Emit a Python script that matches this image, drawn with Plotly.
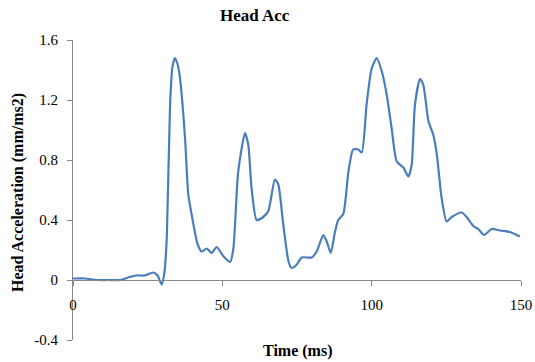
import plotly.graph_objects as go

time_ms = [0, 4, 8, 12, 16, 19, 21, 24, 26.9, 28.3, 29.7, 30.6, 31.4, 32.5, 33.3, 34.1, 35.0, 35.8, 37.5, 38.6, 39.7,
           41.7, 43.1, 44.8, 46.4, 48.1, 50.3, 52.6, 53.7, 55.3, 57.6, 58.7, 59.8, 61.5, 63.7, 65.4, 67.6,
           68.7, 70.4, 72.2, 73.2, 74.8, 76.6, 79.9, 81.6, 83.8, 84.9, 86.3, 87.7, 88.8, 90.5, 92.2, 93.8,
           95.5, 96.7, 98.3, 100.0, 101.7, 103.4, 105.0, 106.7, 108.4, 110.6, 112.3, 113.4, 114.5, 116.2,
           117.3, 119.0, 120.6, 121.8, 123.4, 125.1, 126.8, 130.1, 131.8, 134.0, 135.7, 137.6, 140.2, 143.0,
           146.3, 149.6]
head_acc = [0.01, 0.01, 0.0, 0.0, 0.0, 0.02, 0.03, 0.03, 0.05, 0.03, -0.03, 0.05, 0.28, 1.17, 1.42, 1.48, 1.44, 1.35, 0.95, 0.57, 0.44,
            0.24, 0.19, 0.21, 0.18, 0.22, 0.16, 0.12, 0.21, 0.72, 0.98, 0.90, 0.61, 0.40, 0.42, 0.46, 0.67,
            0.64, 0.37, 0.12, 0.08, 0.10, 0.15, 0.15, 0.19, 0.30, 0.26, 0.18, 0.32, 0.40, 0.44, 0.72, 0.87,
            0.87, 0.85, 1.17, 1.41, 1.48, 1.39, 1.24, 1.01, 0.79, 0.75, 0.69, 0.77, 1.17, 1.34,
            1.30, 1.06, 0.97, 0.84, 0.55, 0.39, 0.42, 0.45, 0.42, 0.36, 0.34, 0.30, 0.34, 0.33,
            0.32, 0.29]

x_ticks = [0, 50, 100, 150]
y_ticks = [-0.4, 0, 0.4, 0.8, 1.2, 1.6]
y_tick_text = ["-0.4", "0", "0.4", "0.8", "1.2", "1.6"]

serif = "Liberation Serif, Times New Roman, serif"

W, H = 535, 362
l, r, t, b = 73, 14, 40, 22
pw, ph = W - l - r, H - t - b
def px(xp): return (xp - l) / pw
def py(yp): return (H - b - yp) / ph

fig = go.Figure()
fig.add_trace(go.Scatter(x=time_ms, y=head_acc, mode="lines",
                         line=dict(color="#4a7ebb", width=2.2, shape="spline", smoothing=0.6),
                         showlegend=False, hoverinfo="skip"))

fig.update_layout(
    width=W, height=H,
    margin=dict(l=l, r=r, t=t, b=b, autoexpand=False),
    paper_bgcolor="white", plot_bgcolor="white",
    font=dict(family=serif, size=15, color="#000000"),
    xaxis=dict(range=[0, 150], tickvals=x_ticks, ticktext=[str(v) for v in x_ticks],
               anchor="free", position=0.2, showline=True, linecolor="#888888", linewidth=1,
               ticks="outside", ticklen=5, tickcolor="#888888", showgrid=False, zeroline=False,
               automargin=False, ticklabelstandoff=6, tickfont=dict(family=serif, size=15)),
    yaxis=dict(range=[-0.4, 1.6], tickvals=y_ticks, ticktext=y_tick_text,
               showline=True, linecolor="#888888", linewidth=1,
               ticks="outside", ticklen=5, tickcolor="#888888", showgrid=False, zeroline=False,
               automargin=False, ticklabelstandoff=6, tickfont=dict(family=serif, size=15)),
)
fig.add_annotation(text="<b>Head Acc</b>", x=px(255), y=py(15), xref="paper", yref="paper",
                   xanchor="center", yanchor="middle",
                   showarrow=False, font=dict(family=serif, size=17))
fig.add_annotation(text="<b>Time (ms)</b>", x=px(297), y=py(351), xref="paper", yref="paper",
                   xanchor="center", yanchor="middle",
                   showarrow=False, font=dict(family=serif, size=16))
fig.add_annotation(text="<b>Head Acceleration (mm/ms2)</b>", x=px(18), y=py(193), xref="paper", yref="paper",
                   xanchor="center", yanchor="middle",
                   showarrow=False, textangle=-90, font=dict(family=serif, size=16))

fig.write_html("out.html", config={"displayModeBar": False, "staticPlot": True},
               post_script="document.body.style.margin='0';document.body.style.overflow='hidden';")
